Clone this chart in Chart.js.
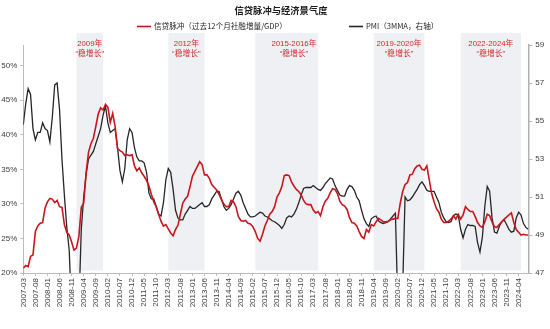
<!DOCTYPE html>
<html>
<head>
<meta charset="utf-8">
<script src="https://cdn.jsdelivr.net/npm/chart.js@4.4.1/dist/chart.umd.min.js"></script>
<style>
  html, body { margin: 0; padding: 0; background: #ffffff; }
  #wrap { width: 550px; height: 329px; }
</style>
</head>
<body>
<div id="wrap"><canvas id="chart" width="550" height="329"></canvas></div>
<script>
// Credit impulse: trailing 12-month total social financing increment / GDP (%), monthly from 2007-03
const CREDIT_IMPULSE = [
  20.7, 21.1, 20.9, 22.4, 22.6, 26.0, 26.8, 27.2, 27.3, 29.4,                 // 2007
  30.3, 30.8, 30.7, 30.2, 30.5, 29.6, 29.5, 27.0, 25.9, 25.5, 24.5, 23.3,     // 2008
  23.6, 25.3, 29.5, 30.1, 34.5, 37.5, 38.7, 39.5, 41.2, 43.0, 43.9, 43.6,     // 2009
  44.4, 44.0, 41.8, 43.1, 41.2, 38.0, 37.7, 37.5, 37.0, 37.1, 37.0, 37.1,     // 2010
  35.5, 34.8, 35.2, 34.5, 34.0, 33.4, 32.6, 31.4, 30.3, 29.6, 28.5, 27.5,     // 2011
  26.8, 27.0, 26.4, 25.8, 25.4, 26.3, 26.9, 28.5, 30.1, 30.7, 31.1, 32.5,     // 2012
  34.0, 34.7, 35.4, 36.1, 35.7, 34.2, 34.2, 33.7, 32.8, 32.4, 32.0, 31.4,     // 2013
  30.6, 30.0, 29.6, 29.6, 30.5, 30.3, 29.6, 28.2, 27.6, 27.5, 27.6, 27.2,     // 2014
  27.1, 26.7, 26.0, 25.0, 24.6, 25.6, 26.8, 27.6, 28.5, 28.9, 29.6, 31.0,     // 2015
  31.6, 32.5, 34.1, 34.2, 34.1, 33.2, 32.6, 32.1, 31.8, 31.3, 30.5, 30.0,     // 2016
  29.9, 29.9, 29.1, 28.7, 28.9, 28.3, 29.6, 30.4, 30.8, 31.6, 32.2, 32.1,     // 2017
  31.5, 30.4, 29.9, 29.7, 29.2, 28.0, 27.3, 27.2, 26.8, 26.0, 25.3, 25.0,     // 2018
  26.3, 25.9, 27.0, 26.8, 27.4, 27.9, 27.7, 27.4, 27.4, 27.5, 27.7, 27.8,     // 2019
  27.9, 27.9, 30.1, 31.8, 32.8, 33.1, 34.2, 34.3, 35.1, 35.5, 35.6, 35.0,     // 2020
  34.9, 35.5, 33.5, 31.5, 30.3, 29.3, 28.8, 27.8, 27.3, 27.3, 27.5, 27.8,     // 2021
  28.3, 27.8, 28.5, 27.8, 28.4, 29.6, 29.2, 28.9, 28.9, 28.2, 27.3, 26.8,     // 2022
  26.6, 27.4, 28.5, 28.3, 27.4, 26.7, 26.6, 27.0, 27.4, 27.8, 28.1, 28.4,     // 2023
  28.7, 27.3, 26.3, 25.9, 25.5, 25.6, 25.5, 25.5                              // 2024
];

// Manufacturing PMI, 3-month moving average (right axis)
const PMI_3MMA = [
  54.8, 55.9, 56.7, 56.4, 54.6, 54.0, 54.4, 54.4, 54.9, 54.6,                          // 2007
  54.5, 53.9, 55.2, 56.9, 57.0, 55.6, 53.0, 51.1, 49.4, 48.2, 45.0, 41.5,              // 2008
  41.8, 45.2, 49.3, 51.0, 52.2, 53.0, 53.2, 53.4, 53.8, 54.2, 54.6, 55.3,              // 2009
  55.8, 54.9, 54.4, 54.5, 54.6, 53.6, 52.4, 51.8, 52.5, 54.0, 54.6, 54.4,              // 2010
  53.6, 53.1, 52.9, 52.9, 52.8, 52.3, 51.2, 50.9, 50.9, 50.5, 50.1, 50.0,              // 2011
  50.7, 51.9, 52.5, 52.3, 51.4, 50.3, 49.9, 49.8, 49.8, 50.1, 50.3, 50.5,              // 2012
  50.4, 50.4, 50.5, 50.6, 50.7, 50.5, 50.5, 50.6, 50.9, 51.1, 51.3, 51.3,              // 2013
  50.9, 50.5, 50.3, 50.4, 50.6, 50.9, 51.2, 51.3, 51.1, 50.7, 50.4, 50.1,              // 2014
  49.95, 49.95, 50.0, 50.1, 50.2, 50.15, 50.0, 49.95, 49.85, 49.75, 49.7, 49.6,        // 2015
  49.5, 49.35, 49.55, 49.9, 50.0, 49.95, 50.1, 50.35, 50.7, 51.1, 51.45, 51.5,         // 2016
  51.5, 51.5, 51.6, 51.5, 51.4, 51.35, 51.5, 51.7, 51.85, 52.0, 51.95, 51.6,           // 2017
  51.35, 51.1, 51.05, 51.05, 51.4, 51.6, 51.55, 51.35, 51.0, 50.8, 50.3, 49.85,        // 2018
  49.6, 49.45, 49.85, 49.95, 50.0, 49.75, 49.65, 49.6, 49.65, 49.7, 49.85, 50.0,       // 2019
  50.15, 45.3, 45.9, 46.2, 51.0, 50.8, 50.85, 51.0, 51.2, 51.4, 51.65, 51.8,           // 2020
  51.6, 51.35, 51.3, 51.3, 51.3, 51.0, 50.7, 50.2, 49.9, 49.7, 49.65, 49.7,            // 2021
  50.0, 50.1, 50.05, 49.3, 48.85, 49.3, 49.55, 49.5, 49.5, 49.45, 48.6, 48.1,          // 2022
  48.9, 50.5, 51.55, 51.3, 49.9, 49.15, 49.1, 49.45, 49.7, 49.8, 49.55, 49.3,          // 2023
  49.15, 49.2, 49.9, 50.2, 50.05, 49.6, 49.4, 49.3                                     // 2024
];

// Month labels for every observation, starting 2007-03
const START_YEAR = 2007;
const START_MONTH = 3;
const MONTHS = CREDIT_IMPULSE.map((_, i) => {
  const m = START_MONTH - 1 + i;
  return START_YEAR + Math.floor(m / 12) + '-' + String((m % 12) + 1).padStart(2, '0');
});

// Months printed on the category axis
const TICK_LABELS = [
  '2007-03', '2007-08', '2008-01', '2008-06', '2008-11', '2009-04', '2009-09',
  '2010-02', '2010-07', '2010-12', '2011-05', '2011-10', '2012-03', '2012-08',
  '2013-01', '2013-06', '2013-11', '2014-04', '2014-09', '2015-02', '2015-07',
  '2015-12', '2016-05', '2016-10', '2017-03', '2017-08', '2018-01', '2018-06',
  '2018-11', '2019-04', '2019-09', '2020-02', '2020-07', '2020-12', '2021-05',
  '2021-10', '2022-03', '2022-08', '2023-01', '2023-06', '2023-11', '2024-04'
];

// Policy easing ("稳增长") periods
const EASING_PERIODS = [
  { from: '2009-01', to: '2009-12', title: '2009年' },
  { from: '2012-03', to: '2013-06', title: '2012年' },
  { from: '2015-03', to: '2017-05', title: '2015-2016年', labelAt: '2016-07' },
  { from: '2019-04', to: '2021-01', title: '2019-2020年' },
  { from: '2022-04', to: '2024-05', title: '2022-2024年' }
];
const EASING_TAG = '“稳增长”';

const SERIES_NAMES = ['信贷脉冲（过去12个月社融增量/GDP）', 'PMI（3MMA，右轴）'];
const CHART_TITLE = '信贷脉冲与经济景气度';

const RED = '#c8161d';
const DARK = '#262626';
const LATIN = "'Liberation Sans', 'Noto Sans CJK SC', sans-serif";
const CJK = "'Noto Sans CJK SC', 'Liberation Sans', sans-serif";
const AXIS_GREY = '#bdbdbd';
const TEXT_GREY = '#404040';

// Shaded easing periods and their captions
const periodBands = {
  id: 'periodBands',
  beforeDatasetsDraw(chart) {
    const { ctx, chartArea, scales } = chart;
    const x = scales.x;
    ctx.save();
    ctx.fillStyle = '#eef0f4';
    EASING_PERIODS.forEach(p => {
      const x0 = x.getPixelForValue(MONTHS.indexOf(p.from));
      const x1 = x.getPixelForValue(MONTHS.indexOf(p.to));
      const top = chartArea.top - 12;
      ctx.fillRect(x0, top, x1 - x0, chartArea.bottom - 2.5 - top);
    });
    ctx.restore();
  },
  afterDatasetsDraw(chart) {
    const { ctx, chartArea, scales } = chart;
    const x = scales.x;
    ctx.save();
    ctx.fillStyle = '#cf2a2a';
    ctx.font = '7.8px ' + LATIN;
    ctx.textAlign = 'center';
    ctx.textBaseline = 'middle';
    EASING_PERIODS.forEach(p => {
      let cx;
      if (p.labelAt) {
        cx = x.getPixelForValue(MONTHS.indexOf(p.labelAt));
      } else {
        cx = (x.getPixelForValue(MONTHS.indexOf(p.from)) + x.getPixelForValue(MONTHS.indexOf(p.to))) / 2;
      }
      ctx.fillText(p.title, cx, chartArea.top - 1);
      ctx.fillText(EASING_TAG, cx, chartArea.top + 9);
    });
    ctx.restore();
  }
};

// Title and legend row
const header = {
  id: 'header',
  afterDraw(chart) {
    const { ctx, data } = chart;
    ctx.save();
    ctx.textBaseline = 'middle';
    ctx.fillStyle = '#1a1a1a';
    ctx.font = 'bold 9.3px ' + CJK;
    ctx.textAlign = 'center';
    ctx.fillText(CHART_TITLE, 281, 10);

    ctx.font = '7.6px ' + CJK;
    ctx.textAlign = 'left';
    const items = [
      { x: 137, color: data.datasets[0].borderColor, text: SERIES_NAMES[0] },
      { x: 349, color: data.datasets[1].borderColor, text: SERIES_NAMES[1] }
    ];
    items.forEach(it => {
      ctx.strokeStyle = it.color;
      ctx.lineWidth = 1.6;
      ctx.beginPath();
      ctx.moveTo(it.x, 26.5);
      ctx.lineTo(it.x + 14, 26.5);
      ctx.stroke();
      ctx.fillStyle = '#262626';
      ctx.fillText(it.text, it.x + 17, 26.5);
    });
    ctx.restore();
  }
};

new Chart(document.getElementById('chart'), {
  type: 'line',
  data: {
    labels: MONTHS,
    datasets: [
      {
        label: SERIES_NAMES[0],
        data: CREDIT_IMPULSE,
        yAxisID: 'y',
        borderColor: RED,
        borderWidth: 1.6,
        pointRadius: 0,
        tension: 0,
        clip: 0
      },
      {
        label: SERIES_NAMES[1],
        data: PMI_3MMA,
        yAxisID: 'y1',
        borderColor: DARK,
        borderWidth: 1.3,
        pointRadius: 0,
        tension: 0,
        clip: 0
      }
    ]
  },
  options: {
    responsive: false,
    animation: false,
    layout: { padding: { top: 45, left: 0, right: 0, bottom: 0 } },
    plugins: {
      legend: { display: false },
      title: { display: false },
      tooltip: { enabled: false }
    },
    scales: {
      x: {
        type: 'category',
        offset: false,
        grid: {
          display: true,
          drawOnChartArea: false,
          drawTicks: true,
          tickLength: 3,
          tickColor: c => (TICK_LABELS.includes(MONTHS[c.index]) ? AXIS_GREY : 'rgba(0,0,0,0)')
        },
        border: { display: true, color: AXIS_GREY, width: 1 },
        ticks: {
          autoSkip: false,
          minRotation: 90,
          maxRotation: 90,
          padding: 2,
          color: TEXT_GREY,
          font: { family: LATIN, size: 8 },
          callback(value) {
            const l = MONTHS[value];
            return TICK_LABELS.includes(l) ? l : '';
          }
        },
        afterFit(s) { s.height = 56; }
      },
      y: {
        position: 'left',
        min: 20,
        max: 53,
        grid: { drawOnChartArea: false, drawTicks: true, tickLength: 3, tickColor: AXIS_GREY },
        border: { display: true, color: AXIS_GREY, width: 1 },
        ticks: {
          stepSize: 5,
          padding: 3,
          color: TEXT_GREY,
          font: { family: LATIN, size: 8 },
          callback: v => v + '%'
        },
        afterBuildTicks(s) { s.ticks = s.ticks.filter(t => t.value % 5 === 0); },
        afterFit(s) { s.width = 23.3; }
      },
      y1: {
        position: 'right',
        min: 47,
        max: 59,
        grid: { drawOnChartArea: false, drawTicks: true, tickLength: 4, tickColor: '#b0b0b0' },
        border: { display: true, color: '#b0b0b0', width: 1.5 },
        ticks: {
          stepSize: 2,
          padding: 3,
          color: TEXT_GREY,
          font: { family: LATIN, size: 8 }
        },
        afterFit(s) { s.width = 21.7; }
      }
    }
  },
  plugins: [periodBands, header]
});
</script>
</body>
</html>
